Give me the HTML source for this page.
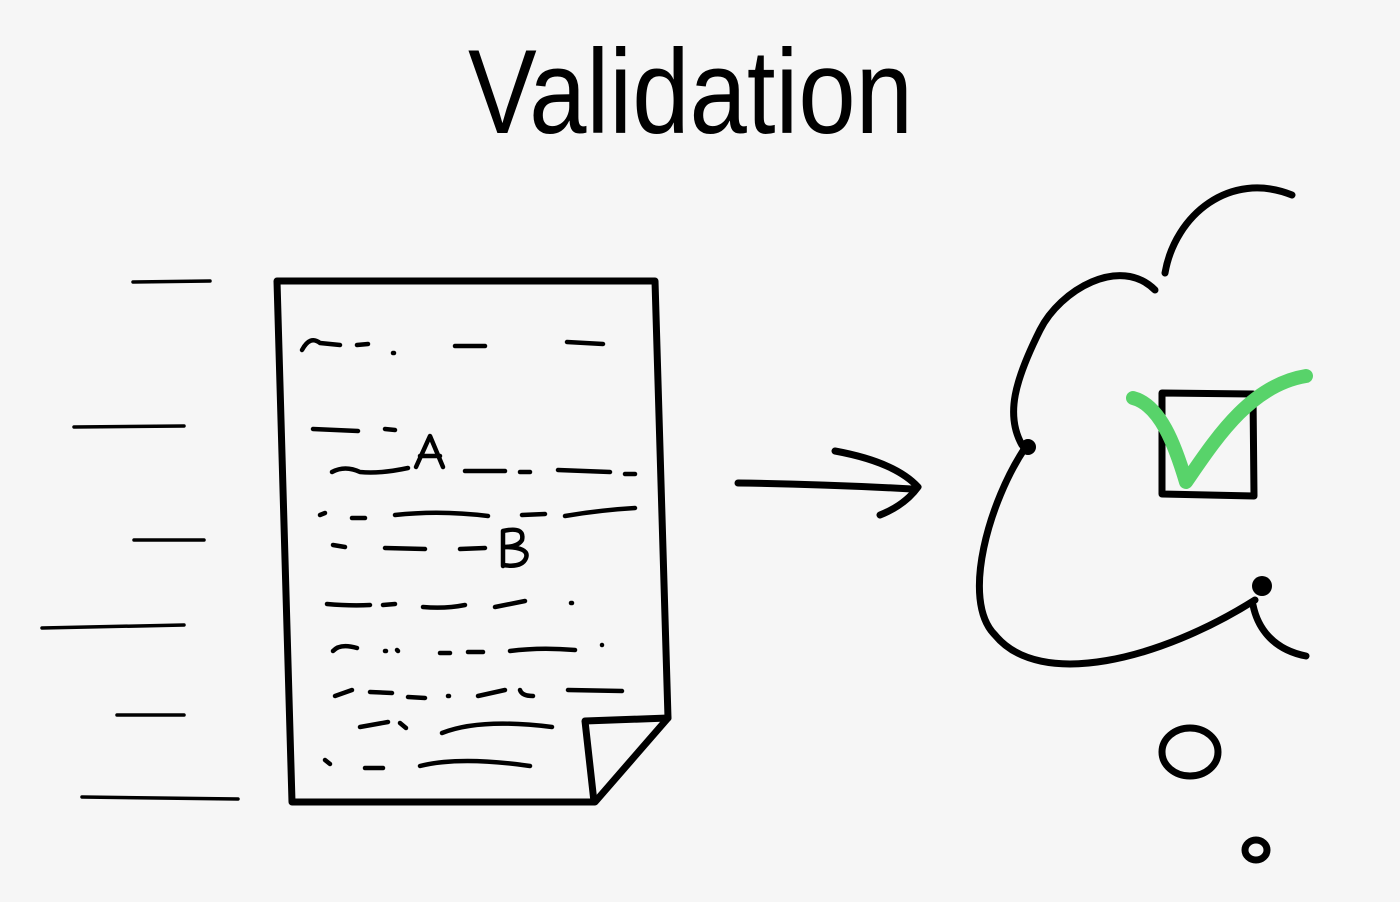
<!DOCTYPE html>
<html><head><meta charset="utf-8"><style>
html,body{margin:0;padding:0;background:#f6f6f6;}
svg{display:block;}
</style></head><body>
<svg width="1400" height="902" viewBox="0 0 1400 902" xmlns="http://www.w3.org/2000/svg">
<rect width="1400" height="902" fill="#f6f6f6"/>
<text x="468" y="133" font-family="Liberation Sans, sans-serif" font-size="120" textLength="445" lengthAdjust="spacingAndGlyphs" fill="#000">Validation</text>
<g fill="none" stroke="#000" stroke-linecap="round" stroke-linejoin="round">
<g stroke-width="3.5">
<line x1="133" y1="282" x2="210" y2="281"/>
<line x1="74" y1="427" x2="184" y2="426"/>
<line x1="134" y1="540" x2="204" y2="540"/>
<line x1="42" y1="628" x2="184" y2="625"/>
<line x1="117" y1="715" x2="184" y2="715"/>
<line x1="82" y1="797" x2="238" y2="799"/>
</g>
<path stroke-width="7" d="M277,281 L655,281 L668,718 L595,802 L292,802 Z"/>
<path stroke-width="7" d="M668,718 L585,721 L594,802"/>
<g stroke-width="4.5">
<path d="M302,350 Q310,335 320,343 L340,345"/><line x1="357" y1="345" x2="368" y2="344"/><line x1="393" y1="353" x2="394" y2="353"/><line x1="455" y1="346" x2="485" y2="346"/><line x1="567" y1="342" x2="603" y2="344"/>
<line x1="313" y1="429" x2="358" y2="431"/><line x1="385" y1="429" x2="395" y2="430"/>
<path d="M332,472 Q345,465 360,472 Q380,474 408,468"/><line x1="465" y1="471" x2="505" y2="471"/><line x1="520" y1="472" x2="530" y2="472"/><line x1="558" y1="470" x2="610" y2="472"/><line x1="625" y1="474" x2="635" y2="474"/>
<line x1="320" y1="515" x2="325" y2="513"/><line x1="352" y1="518" x2="365" y2="518"/><path d="M395,515 Q440,510 488,516"/><line x1="522" y1="515" x2="545" y2="514"/><path d="M565,516 Q600,510 635,508"/>
<line x1="333" y1="545" x2="345" y2="547"/><line x1="385" y1="548" x2="425" y2="549"/><line x1="460" y1="549" x2="485" y2="548"/>
<path d="M327,604 Q350,606 370,605"/><line x1="383" y1="605" x2="395" y2="604"/><path d="M423,607 Q445,609 465,605"/><line x1="495" y1="607" x2="525" y2="601"/><line x1="571" y1="603" x2="572" y2="603"/>
<path d="M333,651 Q340,643 357,648"/><line x1="385" y1="651" x2="386" y2="651"/><line x1="397" y1="650" x2="398" y2="651"/><line x1="440" y1="653" x2="450" y2="653"/><line x1="468" y1="652" x2="483" y2="652"/><path d="M510,651 Q540,647 575,650"/><line x1="602" y1="645" x2="602" y2="645"/>
<line x1="335" y1="696" x2="352" y2="690"/><line x1="370" y1="692" x2="392" y2="693"/><line x1="408" y1="697" x2="425" y2="698"/><line x1="448" y1="696" x2="449" y2="696"/><line x1="478" y1="696" x2="505" y2="690"/><path d="M520,690 Q522,696 533,696"/><line x1="568" y1="690" x2="622" y2="691"/>
<line x1="360" y1="727" x2="388" y2="722"/><line x1="400" y1="723" x2="406" y2="728"/><path d="M442,733 Q480,718 552,727"/>
<line x1="325" y1="760" x2="330" y2="764"/><line x1="365" y1="768" x2="383" y2="768"/><path d="M420,766 Q460,756 530,766"/>
</g>
<g stroke-width="4.5">
<path d="M416,467 L430,436 L443,467 M420,456 L440,456"/>
<path d="M503,531 L503,566 M503,531 Q525,526 522,540 Q518,547 503,547 Q530,547 526,558 Q522,568 503,565"/>
</g>
<path stroke-width="7" d="M738,483 Q820,484 912,489"/>
<path stroke-width="7" d="M835,451 Q895,462 918,487 Q905,505 880,515"/>
<g stroke-width="7">
<path d="M1165,273 C1175,215 1230,170 1292,195"/>
<path d="M1155,290 C1120,255 1060,290 1040,330 C1015,380 1005,415 1022,445"/>
<path d="M1025,448 C990,500 960,600 995,635 C1040,690 1160,660 1255,600"/>
<path d="M1253,605 C1258,630 1275,650 1306,656"/>
<path d="M1162,393 L1253,394 L1254,496 L1162,494 Z"/>
</g>
<circle cx="1028" cy="447" r="8" fill="#000" stroke="none"/>
<circle cx="1262" cy="586" r="10" fill="#000" stroke="none"/>
<path stroke="#58d36a" stroke-width="14" d="M1133,398 C1160,405 1175,445 1186,482 C1215,440 1250,385 1306,376"/>
<ellipse cx="1190" cy="752" rx="28" ry="24" stroke-width="7"/>
<ellipse cx="1256" cy="850" rx="11" ry="10" stroke-width="7"/>
</g>
</svg>
</body></html>
